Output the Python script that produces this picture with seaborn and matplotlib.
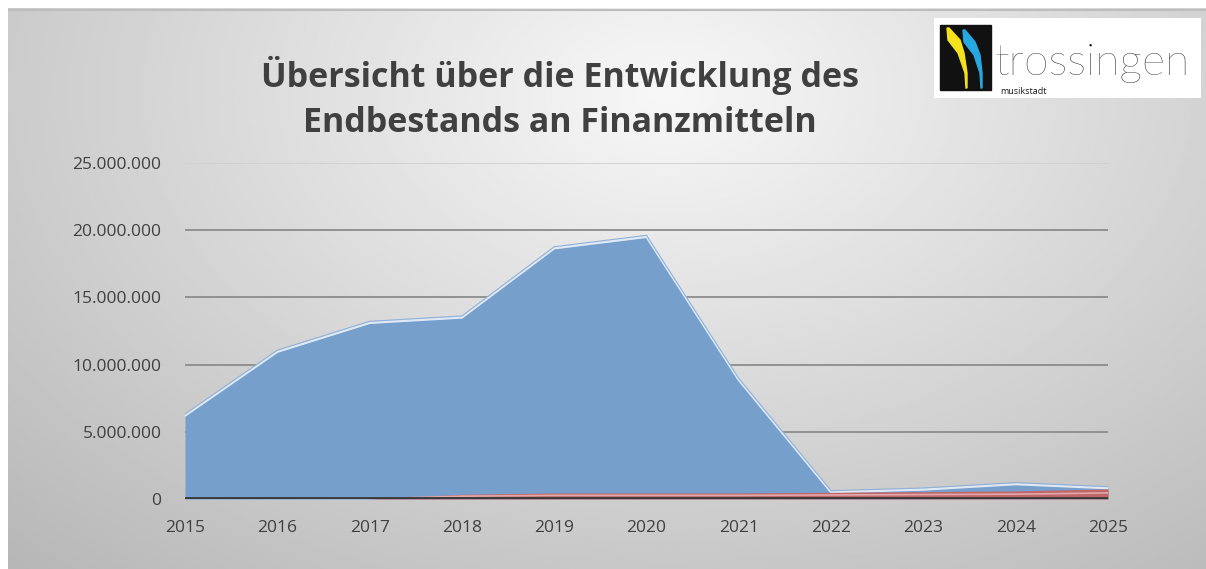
import numpy as np
import pandas as pd
import matplotlib
matplotlib.use("Agg")
import matplotlib.pyplot as plt
import seaborn as sns
from matplotlib.patches import Rectangle, Polygon
from matplotlib.ticker import FuncFormatter

# data
years = [2015, 2016, 2017, 2018, 2019, 2020, 2021, 2022, 2023, 2024, 2025]
endbestand = [6.2e6, 10.95e6, 13.1e6, 13.5e6, 18.65e6, 19.5e6, 8.85e6, 0.5e6, 0.7e6, 1.1e6, 0.8e6]
sockel = [0, 0, 0, 0.35e6, 0.45e6, 0.45e6, 0.45e6, 0.5e6, 0.55e6, 0.6e6, 0.75e6]
y_ticks = [0, 5e6, 10e6, 15e6, 20e6, 25e6]

df = pd.DataFrame({"Jahr": years, "Endbestand": endbestand, "Sockel": sockel})

sns.set_theme(style="white")
plt.rcParams["font.family"] = ["Open Sans", "DejaVu Sans"]

fig = plt.figure(figsize=(12.06, 5.69), dpi=100)
fig.patch.set_facecolor("white")

# radial grey background
bg = fig.add_axes([8 / 1206, 0, 1 - 8 / 1206, 1 - 8 / 569])
bg.set_axis_off()
xx, yy = np.meshgrid(np.linspace(0, 1, 400), np.linspace(0, 1, 200))
r = np.sqrt(((xx - 0.55) / 0.7) ** 2 + ((yy - 0.15) / 1.0) ** 2)
val = 0.97 - 0.22 * np.clip(r, 0, 1.3)
bg.imshow(val, cmap="gray", vmin=0, vmax=1, aspect="auto", extent=[0, 1, 1, 0])
bg.set_xlim(0, 1)
bg.set_ylim(1, 0)
bg.plot([0, 1], [0.003, 0.003], color="#bdbdbd", lw=1.5)

ax = fig.add_axes([185 / 1206, 1 - 499 / 569, (1108 - 185) / 1206, (499 - 163) / 569])
ax.patch.set_alpha(0)

for yv in y_ticks[1:]:
    ax.axhline(yv, color="#8c8c8c" if yv < 25e6 else "#d0d0d0", lw=1.3, zorder=1)

ax.fill_between(df["Jahr"], df["Endbestand"], color="#769fcb", lw=0, zorder=2)
sns.lineplot(data=df, x="Jahr", y="Endbestand", ax=ax, color="#dfe9f5", lw=1.6, zorder=3)
ax.plot(df["Jahr"], df["Endbestand"] + 0.12e6, color="#8fb0d8", lw=0.8, zorder=3)

ax.fill_between(df["Jahr"], df["Sockel"], color="#c0676a", lw=0, zorder=4)
ax.plot(df["Jahr"], df["Sockel"] * 0.6, color="#e3a8a9", lw=1.2, zorder=4)

ax.axhline(0, color="#3a3a3a", lw=3.5, zorder=5)

ax.set_xlim(2015, 2025)
ax.set_ylim(0, 25e6)
ax.set_xticks(years)
ax.set_yticks(y_ticks)
ax.yaxis.set_major_formatter(FuncFormatter(lambda v, p: f"{int(v):,}".replace(",", ".")))
ax.tick_params(axis="both", length=0, labelsize=12.5, labelcolor="#404040")
ax.tick_params(axis="y", pad=17)
ax.tick_params(axis="x", pad=15)
ax.set_xlabel("")
ax.set_ylabel("")
for s in ax.spines.values():
    s.set_visible(False)

fig.text(0.464, 1 - 75 / 569, "Übersicht über die Entwicklung des", ha="center", va="center",
         fontsize=24.5, fontweight="bold", color="#404040")
fig.text(0.464, 1 - 123 / 569, "Endbestands an Finanzmitteln", ha="center", va="center",
         fontsize=24.5, fontweight="bold", color="#404040")

# logo
lg = fig.add_axes([934 / 1206, 1 - 98 / 569, (1201 - 934) / 1206, (98 - 18) / 569])
lg.set_xlim(0, 267)
lg.set_ylim(80, 0)
lg.set_axis_off()
lg.add_patch(Rectangle((0, 0), 267, 80, color="white"))
lg.add_patch(Rectangle((6, 7), 51, 65, color="#111111"))
lg.add_patch(Polygon([(13, 10), (15, 10), (26, 22), (30, 35), (33, 55), (33, 70), (32, 70),
                      (31, 55), (24, 35), (14, 22)], color="#f3e21c"))
lg.add_patch(Polygon([(29, 12), (31, 12), (41, 24), (46, 37), (48, 55), (48, 70), (47, 70),
                      (46, 55), (40, 37), (30, 24)], color="#27a8e0"))
lg.text(61, 57, "trossingen", fontsize=32, color="#1a1a1a", va="baseline", ha="left",
        family=["Lato", "DejaVu Sans"], fontweight="light")
lg.text(66, 76, "musikstadt", fontsize=6.5, color="#1a1a1a", va="baseline", ha="left")

fig.savefig("out.png", dpi=100)
